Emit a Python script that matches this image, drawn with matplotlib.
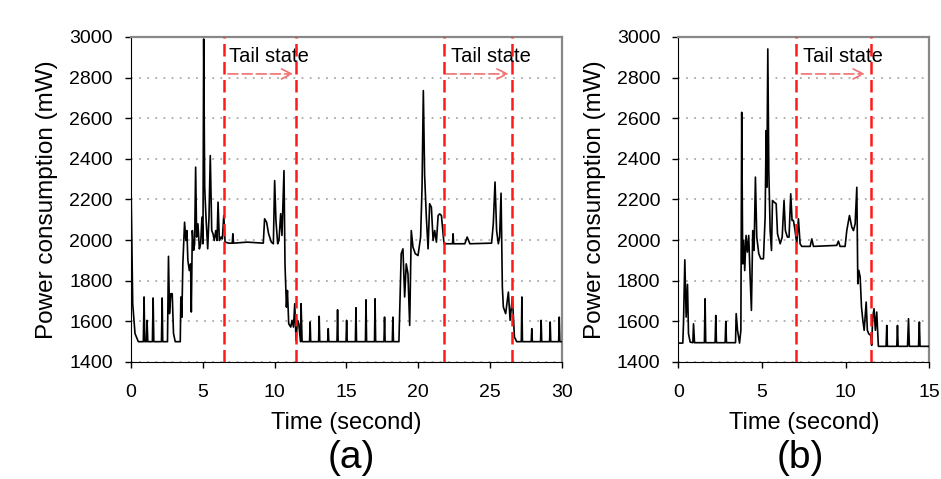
import matplotlib.pyplot as plt
import numpy as np

plt.rcParams['font.family'] = ['Liberation Sans', 'DejaVu Sans']

# (a) 30 s trace
time_a = [0.0, 0.12, 0.28, 0.51, 0.86, 0.91, 0.96, 1.07, 1.12, 1.17, 1.49, 1.54, 1.59,
          2.12, 2.17, 2.21, 2.54, 2.61, 2.68, 2.77, 2.87, 2.96, 3.08, 3.43, 3.47, 3.54,
          3.61, 3.73, 3.82, 3.89, 3.96, 4.06, 4.15, 4.20, 4.27, 4.36, 4.43, 4.50, 4.57,
          4.66, 4.76, 4.85, 4.94, 5.01, 5.06, 5.13, 5.22, 5.34, 5.43, 5.52, 5.62, 5.71,
          5.80, 5.90, 5.99, 6.06, 6.15, 6.27, 6.36, 6.46, 6.55, 6.81, 7.05, 7.09, 7.14,
          8.09, 9.21, 9.30, 9.44, 9.58, 9.77, 9.91, 10.0, 10.09, 10.21, 10.30, 10.42,
          10.51, 10.65, 10.72, 10.82, 10.89, 10.98, 11.12, 11.21, 11.31, 11.40, 11.49,
          11.59, 11.68, 11.80, 11.84, 11.91,
          12.43, 12.47, 12.51, 13.06, 13.10, 13.14, 13.69, 13.73, 13.77, 14.34, 14.38,
          14.42, 14.97, 15.01, 15.05, 15.62, 15.66, 15.70, 16.32, 16.36, 16.40, 16.95,
          16.99, 17.03, 17.61, 17.65, 17.69, 18.19, 18.23, 18.27, 18.65,
          18.81, 18.93, 19.05, 19.16, 19.28, 19.40, 19.51, 19.63, 19.79, 19.98, 20.16,
          20.26, 20.35, 20.44, 20.56, 20.68, 20.79, 20.91, 21.03, 21.14, 21.26, 21.38,
          21.49, 21.61, 21.79, 22.07, 22.38, 22.42, 22.46, 23.24, 23.40, 23.59, 25.10,
          25.22, 25.34, 25.45, 25.57, 25.66, 25.76, 25.85, 25.92, 26.08, 26.27, 26.39,
          26.55, 26.69, 26.85, 27.17, 27.21, 27.25, 27.86, 27.90, 27.94, 28.51, 28.55,
          28.59, 29.14, 29.18, 29.22, 29.77, 29.81, 29.85, 30.0]
power_a = [2290, 1687, 1540, 1500, 1500, 1720, 1500, 1500, 1605, 1500, 1500, 1715, 1500,
           1500, 1715, 1500, 1500, 1920, 1638, 1736, 1736, 1540, 1500, 1500, 1720, 1620,
           1883, 2088, 1998, 2047, 1900, 1850, 1883, 1646, 2047, 1950, 1982, 2359, 2015,
           2080, 1957, 1982, 2113, 1982, 2990, 2260, 2113, 1957, 2113, 2416, 2047, 2031,
           1998, 2047, 1998, 2187, 1998, 2015, 2006, 2121, 1990, 1985, 1985, 2031, 1985,
           1990, 1985, 2105, 2088, 2031, 1990, 1982, 2293, 2097, 1982, 1998, 2130,
           2023, 2342, 1883, 1670, 1752, 1588, 1572, 1605, 1572, 1687, 1506,
           1605, 1588, 1500, 1687, 1500,
           1500, 1597, 1500, 1500, 1625, 1500, 1500, 1564, 1500, 1500, 1657,
           1500, 1500, 1605, 1500, 1500, 1667, 1500, 1500, 1706, 1500, 1500,
           1711, 1500, 1500, 1621, 1500, 1500, 1621, 1500, 1500,
           1933, 1957, 1720, 1883, 1834, 1580, 2047, 1965, 1933, 1924, 2015,
           2260, 2736, 2318, 2113, 1957, 2179, 2162, 1998, 2047, 1990, 2121,
           2129, 2121, 1982, 1982, 1982, 2031, 1982, 1982, 2015, 1982, 1985,
           2080, 2286, 2047, 1982, 2015, 2231, 1769, 1670, 1638, 1744, 1605,
           1720, 1523, 1500, 1500, 1720, 1500, 1500, 1564, 1500, 1500, 1605,
           1500, 1500, 1597, 1500, 1500, 1621, 1500, 1500]

# (b) 15 s trace
time_b = [0.0, 0.26, 0.30, 0.38, 0.46, 0.54, 0.60, 0.70, 0.86, 0.90, 0.96, 1.55, 1.59,
          1.63, 2.19, 2.23, 2.27, 2.79, 2.83, 2.87, 3.41, 3.45, 3.53, 3.65, 3.73, 3.78,
          3.84, 3.90, 3.96, 4.04, 4.12, 4.20, 4.28, 4.36, 4.44, 4.52, 4.60, 4.68, 4.80,
          4.92, 5.08, 5.18, 5.24, 5.28, 5.34, 5.40, 5.48, 5.56, 5.62, 5.72, 5.84, 5.92,
          6.00, 6.08, 6.20, 6.31, 6.39, 6.51, 6.61, 6.71, 6.79, 6.87, 6.97, 7.07, 7.17,
          7.27, 7.37, 7.87, 7.97, 8.07, 9.46, 9.56, 9.66, 9.96, 10.06, 10.22, 10.36,
          10.46, 10.56, 10.66, 10.72, 10.78, 10.86, 10.94, 11.02, 11.10, 11.22, 11.29,
          11.37, 11.49, 11.55, 11.61, 11.69, 11.77, 11.85, 11.95, 12.41, 12.45, 12.49,
          13.05, 13.09, 13.13, 13.69, 13.75, 13.80, 14.35, 14.40, 14.44, 15.0]
power_b = [1493, 1493, 1588, 1903, 1621, 1782, 1539, 1498, 1495, 1588, 1495, 1495, 1711,
           1495, 1495, 1629, 1495, 1495, 1600, 1495, 1495, 1638, 1556, 1493, 1556, 2629,
           1883, 1998, 1850, 2023, 1941, 2023, 1826, 1654, 2047, 1949, 2310, 2015, 1933,
           1908, 1908, 2113, 2539, 2260, 2941, 2342, 2047, 1949, 2195, 2187, 2179, 2031,
           2006, 1982, 2015, 2195, 2047, 2015, 2015, 2228, 2097, 2097, 2047, 1982, 2105,
           1982, 1969, 1969, 2006, 1969, 1974, 1995, 1969, 1969, 2047, 2121, 2064,
           2047, 2080, 2260, 1785, 1851, 1818, 1670, 1605, 1556, 1695, 1556,
           1539, 1531, 1482, 1621, 1662, 1556, 1646, 1477, 1477, 1580, 1477,
           1477, 1580, 1477, 1477, 1613, 1477, 1477, 1597, 1477, 1477]

# tail state boundaries and annotation arrows
tail_a = [6.5, 11.5, 21.8, 26.5]
tail_b = [7.0, 11.5]
arrows_a = [(6.75, 11.3), (21.95, 26.3)]
arrows_b = [(7.35, 11.15)]
labels_a = [6.82, 22.3]
labels_b = [7.45]

fig = plt.figure(figsize=(9.41, 4.79), dpi=100)
ax1 = fig.add_axes([0.1392, 0.2443, 0.458, 0.6785])
ax2 = fig.add_axes([0.721, 0.2443, 0.2667, 0.6785])


def setup(ax, t, p, xmax, tails, arrows, labels):
    ax.plot(t, p, color='black', lw=1.2, zorder=3)
    for x in tails:
        ax.axvline(x, color='#ff1a1a', lw=1.8, linestyle=(0, (5, 2.2)), zorder=4)
    for x0, x1 in arrows:
        ax.annotate('', xy=(x1, 2818), xytext=(x0, 2818),
                    arrowprops=dict(arrowstyle='->', color='#f07070', lw=1.2,
                                    linestyle=(0, (6, 2.5)), mutation_scale=18,
                                    shrinkA=0, shrinkB=0))
    for x in labels:
        ax.text(x, 2878, 'Tail state', fontsize=14.5, ha='left', va='baseline')
    ax.set_xlim(0, xmax)
    ax.set_ylim(1400, 3000)
    ax.set_xticks(np.arange(0, xmax + 1, 5))
    ax.set_yticks(np.arange(1400, 3001, 200))
    ax.yaxis.grid(True, linestyle=(0, (1, 3.5)), color='#aaaaaa', lw=1.3)
    ax.set_axisbelow(True)
    ax.tick_params(axis='both', direction='out', length=4, width=1, labelsize=14)
    ax.tick_params(axis='x', pad=12)
    ax.tick_params(axis='y', pad=9)
    for s in ['top', 'right']:
        ax.spines[s].set_color('#888888')
        ax.spines[s].set_linewidth(1.6)
    ax.set_xlabel('Time (second)', fontsize=17, labelpad=8)
    ax.set_ylabel('Power consumption (mW)', fontsize=17.5, labelpad=8)


setup(ax1, time_a, power_a, 30, tail_a, arrows_a, labels_a)
setup(ax2, time_b, power_b, 15, tail_b, arrows_b, labels_b)

fig.text(0.373, 0.044, '(a)', fontsize=28, ha='center', va='center')
fig.text(0.850, 0.044, '(b)', fontsize=28, ha='center', va='center')

plt.savefig('out.png', dpi=100)
